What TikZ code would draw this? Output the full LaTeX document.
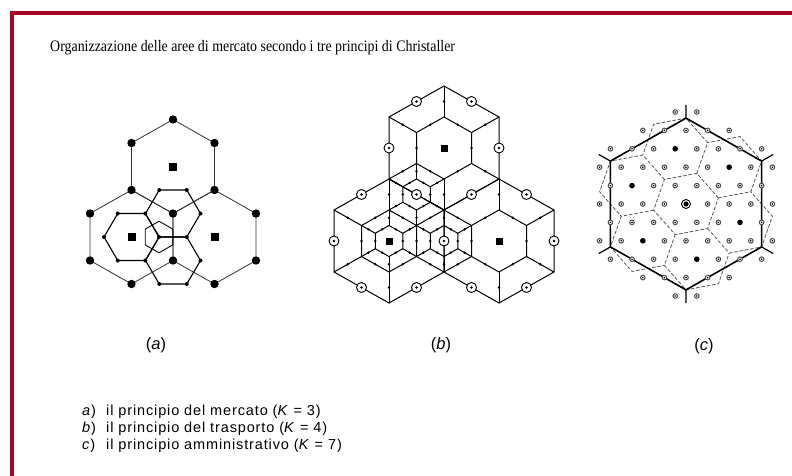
\documentclass[tikz,border=0pt]{standalone}
\usepackage{fontspec}
\setmainfont{Liberation Serif}
\newfontfamily\titlefont[FakeStretch=0.87]{Liberation Serif}
\newfontfamily\labelfont{Liberation Sans}
\newfontfamily\legendfont[LetterSpace=6]{Liberation Sans}
\definecolor{framered}{HTML}{A3001F}

% pointy-top hexagon: [style]{cx}{cy}{half width}{radius}
\newcommand{\PHex}[5][]{%
  \draw[#1] (#2,#3) ++(0,-#5) -- ++(#4,#5/2) -- ++(0,#5) -- ++(-#4,#5/2)
    -- ++(-#4,-#5/2) -- ++(0,-#5) -- cycle;}
% flat-top hexagon: [style]{cx}{cy}{radius}{half height}
\newcommand{\FHex}[5][]{%
  \draw[#1] (#2,#3) ++(-#4,0) -- ++(#4/2,-#5) -- ++(#4,0) -- ++(#4/2,#5)
    -- ++(-#4/2,#5) -- ++(-#4,0) -- cycle;}
% transport-principle cell: half-size hexagon, spokes to the corners, centres on the edges
\newcommand{\KCore}[4]{%
  \PHex{#1}{#2}{#3/2}{#4/2}
  \foreach \dx/\dy in {0/-1,1/-0.5,1/0.5,0/1,-1/0.5,-1/-0.5}{
    \draw ({#1+(\dx)*#3/2},{#2+(\dy)*#4/2}) -- ({#1+(\dx)*#3},{#2+(\dy)*#4});
    \fill ({#1+0.75*(\dx)*#3},{#2+0.75*(\dy)*#4}) circle (1.3pt);}
  \foreach \dx/\dy in {0.25/-0.375,0.5/0,0.25/0.375,-0.25/0.375,-0.5/0,-0.25/-0.375}
    \fill ({#1+(\dx)*#3},{#2+(\dy)*#4}) circle (1.3pt);}

\tikzset{
  bigdot/.style={fill=black},
  centre/.style={fill=black},
  ringmark/.style={draw=black,line width=0.9pt,fill=white},
  arealine/.style={line width=0.8pt,dash pattern=on 3.2pt off 2.2pt,draw=black!65},
  caption/.style={font=\labelfont\fontsize{16.5}{19}\selectfont,inner sep=0pt},
  legend/.style={font=\legendfont\fontsize{14.5}{17}\selectfont,anchor=base west,inner sep=0pt},
}

\begin{document}
\begin{tikzpicture}[x=1pt,y=-1pt,line join=round,line cap=round]
\useasboundingbox (0,0) rectangle (792,476);
\fill[white] (0,0) rectangle (792,476);
% frame
\fill[framered] (10,11) rectangle (792,15);
\fill[framered] (10,11) rectangle (14,476);

\node[anchor=base west,inner sep=0pt,font=\titlefont\fontsize{16}{18}\selectfont] (title) at (50,52)
  {Organizzazione delle aree di mercato secondo i tre principi di Christaller};

% ---------------- (a) market principle, K = 3
\begin{scope}[line width=0.8pt,draw=black!80]
  \PHex{173}{166.5}{41.5}{47}
  \PHex{131.5}{237}{41.5}{47}
  \PHex{214.5}{237}{41.5}{47}
\end{scope}
\begin{scope}[line width=1.1pt]
  \FHex{131.5}{237}{27.5}{23.5}
  \FHex{173}{213.5}{27.5}{23.5}
  \FHex{173}{260.5}{27.5}{23.5}
  \PHex[line width=0.9pt]{159}{237}{13.8}{15.8}
\end{scope}
\foreach \p in {(173,119.5),(214.5,143),(214.5,190),(173,213.5),(131.5,190),(131.5,143),
                (90,213.5),(90,260.5),(131.5,284),(173,260.5),
                (256,213.5),(256,260.5),(214.5,284)}
  \fill[bigdot] \p circle (4.2pt);
\foreach \p in {(104,237),(117.75,213.5),(145.25,213.5),(159,237),(145.25,260.5),(117.75,260.5),
                (200.5,213.5),(186.75,190),(159.25,190),(186.75,237),
                (200.5,260.5),(186.75,284),(159.25,284)}
  \fill \p circle (2pt);
\foreach \p in {(173,166.5),(131.5,237),(214.5,237)}
  \fill[centre] \p ++(-4,-4) rectangle ++(8,8);

% ---------------- (b) transport principle, K = 4
\begin{scope}[line width=1pt]
  \PHex{444}{148}{55}{62}
  \PHex{389}{241}{55}{62}
  \PHex{499}{241}{55}{62}
  \KCore{444}{148}{55}{62}
  \KCore{389}{241}{55}{62}
  \KCore{499}{241}{55}{62}
  \KCore{389}{241}{27.5}{31}
  \KCore{444}{241}{27.5}{31}
  \KCore{416.5}{194.5}{27.5}{31}
\end{scope}
\foreach \p in {(471.5,101.5),(416.5,101.5),(499,148),(389,148),(471.5,194.5),(416.5,194.5),
                (361.5,194.5),(334,241),(361.5,287.5),(416.5,287.5),(444,241),
                (526.5,194.5),(554,241),(526.5,287.5),(471.5,287.5)}{
  \filldraw[ringmark] \p circle (5pt);
  \fill \p circle (1.3pt);}
\foreach \p in {(444,148),(389,241),(499,241)}
  \fill[centre] \p ++(-3.5,-3.5) rectangle ++(7,7);

% ---------------- (c) administrative principle, K = 7
\begin{scope}[shift={(686,204)}]
\begin{scope}[x={(21.6pt,0pt)},y={(10.8pt,18.4pt)}]
  % second-order market areas
  \draw[arealine] (4/3,1/3) -- (-1/3,5/3) -- (-5/3,4/3) -- (-4/3,-1/3) -- (1/3,-5/3) -- (5/3,-4/3) -- cycle;
  \draw[arealine] (3-4/3,-1-1/3) -- (3+1/3,-1-5/3) -- (3+5/3,-1-4/3) -- (3+4/3,-1+1/3) -- (3-1/3,-1+5/3);
  \draw[arealine] (1+1/3,2-5/3) -- (1+5/3,2-4/3) -- (1+4/3,2+1/3) -- (1-1/3,2+5/3) -- (1-5/3,2+4/3);
  \draw[arealine] (-2+5/3,3-4/3) -- (-2+4/3,3+1/3) -- (-2-1/3,3+5/3) -- (-2-5/3,3+4/3) -- (-2-4/3,3-1/3);
  \draw[arealine] (-3+4/3,1+1/3) -- (-3-1/3,1+5/3) -- (-3-5/3,1+4/3) -- (-3-4/3,1-1/3) -- (-3+1/3,1-5/3);
  \draw[arealine] (-1-1/3,-2+5/3) -- (-1-5/3,-2+4/3) -- (-1-4/3,-2-1/3) -- (-1+1/3,-2-5/3) -- (-1+5/3,-2-4/3);
  \draw[arealine] (2-5/3,-3+4/3) -- (2-4/3,-3-1/3) -- (2+1/3,-3-5/3) -- (2+5/3,-3-4/3) -- (2+4/3,-3+1/3);
  % first-order market area with the boundary stubs at its corners
  \draw[line width=1.6pt] (-7/3,14/3) -- (-14/3,7/3) -- (-7/3,-7/3) -- (7/3,-14/3) -- (14/3,-7/3) -- (7/3,7/3) -- cycle;
  \foreach \vx/\vy in {-2.3333/4.6667,-4.6667/2.3333,-2.3333/-2.3333,2.3333/-4.6667,4.6667/-2.3333,2.3333/2.3333}
    \draw[line width=1.2pt] (\vx,\vy) -- ({1.15*(\vx)},{1.15*(\vy)});
  % settlements
  \foreach \m in {-8,...,8}{
    \foreach \n in {-5,...,5}{
      \pgfmathsetmacro\hexdist{max(abs(\m+\n/2),abs(\m/2+\n),abs(\n/2-\m/2))}
      \pgfmathtruncatemacro\rank{mod(2*\m-\n+70,7)}
      \ifdim\hexdist pt<4.01pt
        \ifnum\rank=0
          \fill (\m,\n) circle (2.8pt);
        \else
          \filldraw[draw=black!70,line width=1pt,fill=white] (\m,\n) circle (2.3pt);
          \fill (\m,\n) circle (0.9pt);
        \fi
      \fi
    }}
  \filldraw[draw=black,line width=0.9pt,fill=white] (0,0) circle (4.5pt);
  \fill (0,0) circle (2.6pt);
\end{scope}
\end{scope}

% captions
\node[caption] (capa) at (156,345) {(\textit{a})};
\node[caption] (capb) at (441,345) {(\textit{b})};
\node[caption] (capc) at (704,346) {(\textit{c})};

\node[legend] (lega) at (82,415) {\makebox[24pt][l]{\textit{a})}il principio del mercato (\textit{K} = 3)};
\node[legend] (legb) at (82,432) {\makebox[24pt][l]{\textit{b})}il principio del trasporto (\textit{K} = 4)};
\node[legend] (legc) at (82,449) {\makebox[24pt][l]{\textit{c})}il principio amministrativo (\textit{K} = 7)};
\end{tikzpicture}
\end{document}
